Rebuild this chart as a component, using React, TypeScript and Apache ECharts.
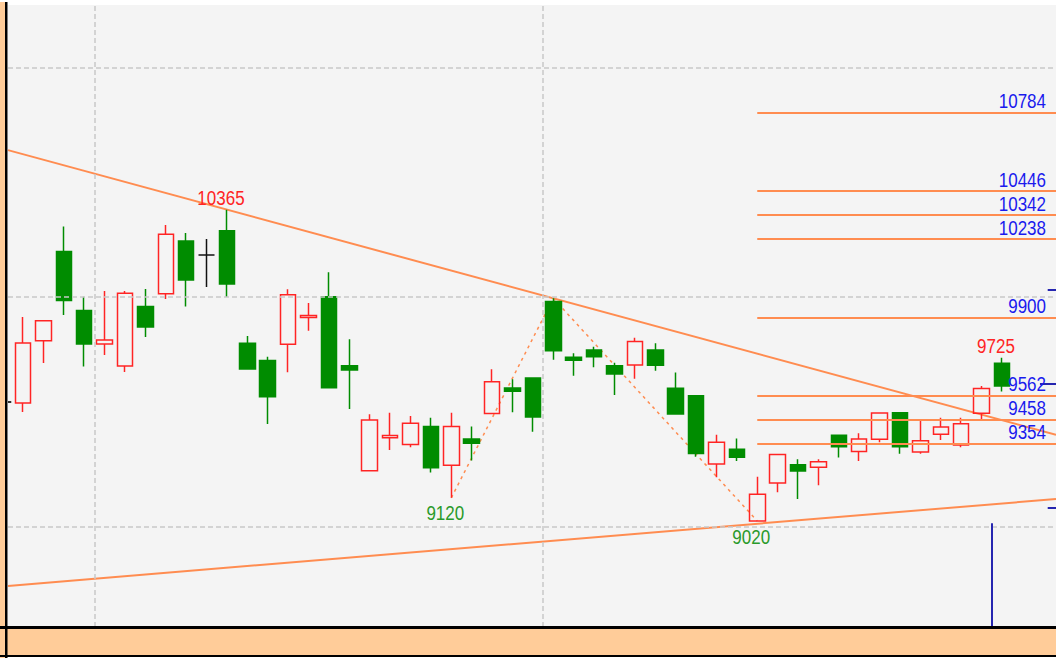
import React, { useEffect, useRef } from "react";
import * as echarts from "echarts";

// ---- candle data (index = position in arrays) ----
const opens = [9530, 9799, 10184, 9929, 9785, 9690, 9946, 10002, 10230, 10169, 10274, 9788, 9713, 9784, 9899, 9989, 9691, 9237, 9380, 9350, 9428, 9261, 9374, 9484, 9595, 9638, 9968, 9727, 9759, 9691, 9694, 9759, 9593, 9561, 9266, 9330, 9020, 9184, 9263, 9252, 9390, 9320, 9373, 9488, 9318, 9395, 9348, 9485, 9701];
const closes = [9789, 9885, 9972, 9785, 9802, 10004, 9858, 10259, 10061, 10169, 10044, 9677, 9557, 9997, 9908, 9596, 9672, 9456, 9389, 9442, 9250, 9428, 9356, 9621, 9580, 9469, 9755, 9714, 9730, 9655, 9795, 9693, 9482, 9311, 9360, 9295, 9135, 9307, 9236, 9276, 9341, 9374, 9487, 9341, 9367, 9426, 9440, 9592, 9603];
const lows = [9491, 9703, 9910, 9687, 9737, 9664, 9815, 9979, 9946, 10031, 9988, 9677, 9439, 9663, 9842, 9596, 9504, 9237, 9327, 9338, 9229, 9120, 9281, 9484, 9490, 9406, 9716, 9647, 9684, 9564, 9634, 9669, 9482, 9298, 9209, 9279, 9020, 9144, 9115, 9174, 9294, 9279, 9360, 9310, 9310, 9370, 9339, 9459, 9579];
const highs = [9901, 9885, 10292, 9989, 10014, 10014, 10022, 10299, 10264, 10238, 10365, 9819, 9729, 10021, 9962, 10095, 9805, 9481, 9488, 9474, 9466, 9488, 9428, 9676, 9632, 9638, 9982, 9745, 9773, 9704, 9812, 9788, 9661, 9561, 9392, 9376, 9211, 9307, 9287, 9287, 9390, 9399, 9487, 9488, 9453, 9466, 9466, 9603, 9725];

// ---- annotation data ----
const levelValues = [10784, 10446, 10342, 10238, 9900, 9562, 9458, 9354];
const levelStartIndex = 36;
const gridValues = [10977, 9988, 8994];
const dividerIndexes = [3.5, 25.5];
const resistanceAnchors = [[10, 10365], [26, 9982]];
const supportAnchors = [[0, 8745], [36, 9008]];
const zigzagPoints = [[21, 9120], [26, 9982], [36, 9020]];
const extremeIndexes = [10, 21, 36, 48];
const extremeValues = [10365, 9120, 9020, 9725];
const extremeKinds = ["high", "low", "low", "high"];
const markerIndex = 47.5;
const markerTop = 9010;
const rightTickStarts = [50.24, 49.86, 50.24];
const rightTickValues = [10021, 9611, 9075];
const leftTickValue = 9534;

const X_MIN = -0.735;
const X_MAX = 50.647;
const Y_MIN = 8562;
const Y_MAX = 11249;

const ORANGE = "#ff8c50";
const RED = "#ff2424";
const GREEN = "#008c00";
const BLUE = "#1a1aee";
const LABEL_FONT = '21px "Liberation Sans", Arial, sans-serif';

function extendLine(anchors: number[][]) {
  const [a, b] = anchors;
  const slope = (b[1] - a[1]) / (b[0] - a[0]);
  const f = (x: number) => a[1] + slope * (x - a[0]);
  return [[X_MIN, f(X_MIN)], [X_MAX, f(X_MAX)]];
}

type LabelItem = { x: number; v: number; text: string; color: string; dx: number; dy: number; align: string };

export default function App() {
  const ref = useRef<HTMLDivElement>(null);

  useEffect(() => {
    document.body.style.margin = "0";
    if (!ref.current) return;
    const chart = echarts.init(ref.current, undefined, { renderer: "svg" });

    const candleData = opens.map((o, i) => [i, o, closes[i], lows[i], highs[i]]);

    const labelItems: LabelItem[] = [];
    levelValues.forEach((v) =>
      labelItems.push({ x: X_MAX, v, text: String(v), color: BLUE, dx: -10, dy: -11.5, align: "right" })
    );
    extremeIndexes.forEach((idx, k) => {
      const isHigh = extremeKinds[k] === "high";
      labelItems.push({
        x: idx,
        v: extremeValues[k],
        text: String(extremeValues[k]),
        color: isHigh ? RED : "#2a9a2a",
        dx: -6,
        dy: isHigh ? -12 : 15.5,
        align: "center",
      });
    });

    const option: any = {
      animation: false,
      backgroundColor: "#ffffff",
      grid: {
        left: 8,
        right: 0,
        top: 5,
        bottom: 31,
        show: true,
        backgroundColor: "#f4f4f4",
        borderWidth: 0,
      },
      xAxis: { type: "value", min: X_MIN, max: X_MAX, show: false },
      yAxis: { type: "value", min: Y_MIN, max: Y_MAX, show: false },
      graphic: [
        { type: "rect", z: 100, shape: { x: 0, y: 2, width: 5, height: 656 }, style: { fill: "#ffcc99" } },
        { type: "rect", z: 100, shape: { x: 7, y: 629, width: 1049, height: 26 }, style: { fill: "#ffcc99" } },
        { type: "rect", z: 101, shape: { x: 5, y: 2, width: 2.5, height: 656 }, style: { fill: "#000000" } },
        { type: "rect", z: 101, shape: { x: 0, y: 626, width: 1056, height: 3 }, style: { fill: "#000000" } },
        { type: "rect", z: 101, shape: { x: 0, y: 655, width: 1056, height: 2 }, style: { fill: "#000000" } },
      ],
      series: [
        {
          name: "guides",
          type: "line",
          data: [],
          z: 1,
          silent: true,
          markLine: {
            silent: true,
            symbol: ["none", "none"],
            label: { show: false },
            emphasis: { disabled: true },
            lineStyle: { color: "#c8c8c8", width: 1.5, type: [5, 3] },
            data: [
              ...gridValues.map((v) => ({ yAxis: v })),
              ...dividerIndexes.map((x) => ({ xAxis: x })),
            ],
          },
        },
        {
          name: "levels",
          type: "line",
          data: [],
          z: 2,
          silent: true,
          markLine: {
            silent: true,
            symbol: ["none", "none"],
            label: { show: false },
            emphasis: { disabled: true },
            lineStyle: { color: ORANGE, width: 2, type: "solid" },
            data: levelValues.map((v) => [{ coord: [levelStartIndex, v] }, { coord: [X_MAX, v] }]),
          },
        },
        {
          name: "markers",
          type: "line",
          data: [],
          z: 4,
          silent: true,
          markLine: {
            silent: true,
            symbol: ["none", "none"],
            label: { show: false },
            emphasis: { disabled: true },
            lineStyle: { color: "#2626b0", width: 2, type: "solid" },
            data: [
              [{ coord: [markerIndex, markerTop] }, { coord: [markerIndex, Y_MIN] }],
              ...rightTickValues.map((v, k) => [{ coord: [rightTickStarts[k], v] }, { coord: [X_MAX, v] }]),
              [
                { coord: [X_MIN, leftTickValue], lineStyle: { color: "#333333" } },
                { coord: [X_MIN + 0.16, leftTickValue] },
              ],
            ],
          },
        },
        {
          name: "resistance",
          type: "line",
          data: extendLine(resistanceAnchors),
          symbol: "none",
          z: 2,
          silent: true,
          lineStyle: { color: ORANGE, width: 2 },
        },
        {
          name: "support",
          type: "line",
          data: extendLine(supportAnchors),
          symbol: "none",
          z: 2,
          silent: true,
          lineStyle: { color: ORANGE, width: 2 },
        },
        {
          name: "zigzag",
          type: "line",
          data: zigzagPoints,
          symbol: "none",
          z: 2,
          silent: true,
          lineStyle: { color: ORANGE, width: 1.5, type: [3, 4] },
        },
        {
          name: "price",
          type: "candlestick",
          data: candleData,
          barWidth: 16,
          z: 3,
          silent: true,
          itemStyle: {
            color: "transparent",
            color0: GREEN,
            borderColor: RED,
            borderColor0: GREEN,
            borderColorDoji: "#111111",
            borderWidth: 1.5,
          },
        },
        {
          name: "labels",
          type: "custom",
          data: labelItems.map((d) => [d.x, d.v]),
          z: 5,
          silent: true,
          clip: false,
          renderItem: (params: any, api: any) => {
            const item = labelItems[params.dataIndex];
            const p = api.coord([item.x, item.v]);
            return {
              type: "text",
              x: p[0] + item.dx,
              y: p[1] + item.dy,
              scaleX: 0.81,
              style: {
                text: item.text,
                fill: item.color,
                font: LABEL_FONT,
                textAlign: item.align,
                textVerticalAlign: "middle",
              },
            };
          },
        },
      ],
    };

    chart.setOption(option);
    return () => chart.dispose();
  }, []);

  return <div ref={ref} style={{ width: 1056, height: 658 }} />;
}
